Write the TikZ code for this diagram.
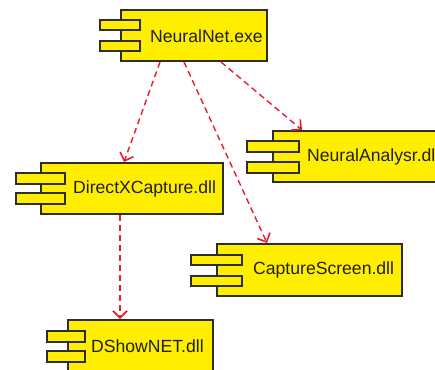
\documentclass[tikz,border=0pt]{standalone}
\usepackage{fontspec}
\setmainfont{Liberation Sans}
\usetikzlibrary{arrows.meta}
\definecolor{compfill}{RGB}{255,238,0}
\definecolor{compline}{RGB}{45,45,45}
\definecolor{deplink}{RGB}{232,28,44}
\tikzset{
  compbox/.style={draw=compline, fill=compfill, line width=1.4pt},
  comptext/.style={anchor=west, inner sep=0pt, font=\fontsize{17.6}{20}\selectfont, text=black!88},
  dep/.style={draw=deplink, line width=1.4pt, dash pattern=on 6pt off 4pt,
    -{Straight Barb[length=7pt,width=14pt,line width=1.6pt]}}
}
\begin{document}
\begin{tikzpicture}[x=1pt,y=-1pt]
\useasboundingbox (0,0) rectangle (435,369);
\clip (0,0) rectangle (435,369);

% NeuralNet.exe
\draw[compbox] (121,10) rectangle (267,61);
\draw[compbox] (100,20) rectangle (140,30);
\draw[compbox] (100,41) rectangle (140,51);
\node[comptext] (nnt) at (150,36) {NeuralNet.exe};

% NeuralAnalysr.dl
\draw[compbox] (273,131) rectangle (445,182);
\draw[compbox] (247,141) rectangle (299,152);
\draw[compbox] (247,162) rectangle (299,173);
\node[comptext] (nat) at (307,157) {NeuralAnalysr.dl};

% DirectXCapture.dll
\draw[compbox] (41,163) rectangle (223,214);
\draw[compbox] (16,173) rectangle (65,184);
\draw[compbox] (16,193) rectangle (65,204);
\node[comptext] (dxt) at (73,189) {DirectXCapture.dll};

% CaptureScreen.dll
\draw[compbox] (217,244) rectangle (402,296);
\draw[compbox] (191,255) rectangle (242,265);
\draw[compbox] (191,276) rectangle (242,286);
\node[comptext] (cst) at (253,270) {CaptureScreen.dll};

% DShowNET.dll
\draw[compbox] (68,320) rectangle (213,372);
\draw[compbox] (47,331) rectangle (85,342);
\draw[compbox] (47,351) rectangle (85,362);
\node[comptext] (dst) at (91,346) {DShowNET.dll};

% connection points
\coordinate (nnA) at (160,62);
\coordinate (nnB) at (184,62);
\coordinate (nnC) at (221,62);
\coordinate (dxTop) at (124,162);
\coordinate (csTop) at (267,243);
\coordinate (naTop) at (302,130);
\coordinate (dxBot) at (120,215);
\coordinate (dsTop) at (120,319);

\draw[dep] (nnA) -- (dxTop);
\draw[dep] (nnB) -- (csTop);
\draw[dep] (nnC) -- (naTop);
\draw[dep] (dxBot) -- (dsTop);
\end{tikzpicture}
\end{document}
